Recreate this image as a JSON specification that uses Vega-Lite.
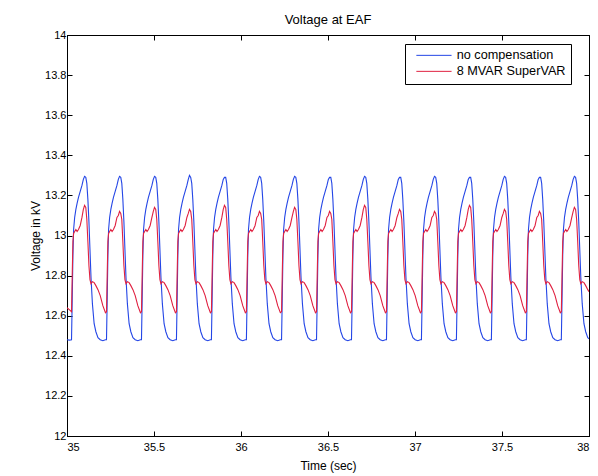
{
"$schema":"https://vega.github.io/schema/vega-lite/v6.json",
"width":522,"height":401,
"autosize":{"type":"none"},
"padding":{"left":67,"top":35,"right":9,"bottom":40},
"title":{"text":"Voltage at EAF","fontSize":13,"fontWeight":"normal","font":"Liberation Sans","color":"black","offset":2},
"data":{"values":[
{"t":35.0,"a":12.48,"b":12.64},{"t":35.013,"a":12.478,"b":12.63},
{"t":35.026,"a":12.48,"b":12.62},{"t":35.030,"a":12.68,"b":12.8},{"t":35.034,"a":12.9,"b":12.97},{"t":35.038,"a":13.03,"b":13.01},{"t":35.044,"a":13.09,"b":13.02},{"t":35.051,"a":13.13,"b":13.03},{"t":35.058,"a":13.16,"b":13.02},{"t":35.066,"a":13.19,"b":13.03},{"t":35.076,"a":13.22,"b":13.05},{"t":35.086,"a":13.25,"b":13.09},{"t":35.094,"a":13.28,"b":13.13},{"t":35.101,"a":13.295,"b":13.15},{"t":35.108,"a":13.29,"b":13.14},{"t":35.114,"a":13.26,"b":13.08},{"t":35.120,"a":13.18,"b":12.97},{"t":35.126,"a":13.07,"b":12.85},{"t":35.132,"a":12.93,"b":12.78},{"t":35.138,"a":12.79,"b":12.76},{"t":35.146,"a":12.66,"b":12.77},{"t":35.156,"a":12.56,"b":12.765},{"t":35.166,"a":12.52,"b":12.75},{"t":35.178,"a":12.49,"b":12.73},{"t":35.191,"a":12.48,"b":12.7},{"t":35.206,"a":12.475,"b":12.65},{"t":35.221,"a":12.48,"b":12.615},
{"t":35.227,"a":12.48,"b":12.62},{"t":35.231,"a":12.68,"b":12.8},{"t":35.235,"a":12.9,"b":12.97},{"t":35.239,"a":13.03,"b":13.01},{"t":35.245,"a":13.09,"b":13.02},{"t":35.252,"a":13.13,"b":13.03},{"t":35.259,"a":13.16,"b":13.02},{"t":35.267,"a":13.19,"b":13.03},{"t":35.277,"a":13.22,"b":13.05},{"t":35.287,"a":13.25,"b":13.09},{"t":35.295,"a":13.28,"b":13.1},{"t":35.302,"a":13.295,"b":13.12},{"t":35.309,"a":13.29,"b":13.11},{"t":35.315,"a":13.26,"b":13.08},{"t":35.321,"a":13.18,"b":12.97},{"t":35.327,"a":13.07,"b":12.85},{"t":35.333,"a":12.93,"b":12.78},{"t":35.339,"a":12.79,"b":12.76},{"t":35.347,"a":12.66,"b":12.77},{"t":35.357,"a":12.56,"b":12.765},{"t":35.367,"a":12.52,"b":12.75},{"t":35.379,"a":12.49,"b":12.73},{"t":35.392,"a":12.48,"b":12.7},{"t":35.407,"a":12.475,"b":12.65},{"t":35.422,"a":12.48,"b":12.615},
{"t":35.428,"a":12.48,"b":12.62},{"t":35.432,"a":12.68,"b":12.8},{"t":35.436,"a":12.9,"b":12.97},{"t":35.440,"a":13.03,"b":13.01},{"t":35.446,"a":13.09,"b":13.02},{"t":35.453,"a":13.13,"b":13.03},{"t":35.460,"a":13.16,"b":13.02},{"t":35.468,"a":13.19,"b":13.03},{"t":35.478,"a":13.22,"b":13.05},{"t":35.488,"a":13.25,"b":13.09},{"t":35.496,"a":13.28,"b":13.12},{"t":35.503,"a":13.295,"b":13.14},{"t":35.510,"a":13.29,"b":13.13},{"t":35.516,"a":13.26,"b":13.08},{"t":35.522,"a":13.18,"b":12.97},{"t":35.528,"a":13.07,"b":12.85},{"t":35.534,"a":12.93,"b":12.78},{"t":35.540,"a":12.79,"b":12.76},{"t":35.548,"a":12.66,"b":12.77},{"t":35.558,"a":12.56,"b":12.765},{"t":35.568,"a":12.52,"b":12.75},{"t":35.580,"a":12.49,"b":12.73},{"t":35.593,"a":12.48,"b":12.7},{"t":35.608,"a":12.475,"b":12.65},{"t":35.623,"a":12.48,"b":12.615},
{"t":35.629,"a":12.48,"b":12.62},{"t":35.633,"a":12.68,"b":12.8},{"t":35.637,"a":12.9,"b":12.97},{"t":35.641,"a":13.03,"b":13.01},{"t":35.647,"a":13.09,"b":13.02},{"t":35.654,"a":13.13,"b":13.03},{"t":35.661,"a":13.16,"b":13.02},{"t":35.669,"a":13.19,"b":13.03},{"t":35.679,"a":13.22,"b":13.05},{"t":35.689,"a":13.25,"b":13.09},{"t":35.697,"a":13.28,"b":13.11},{"t":35.704,"a":13.3,"b":13.13},{"t":35.711,"a":13.29,"b":13.12},{"t":35.717,"a":13.26,"b":13.08},{"t":35.723,"a":13.18,"b":12.97},{"t":35.729,"a":13.07,"b":12.85},{"t":35.735,"a":12.93,"b":12.78},{"t":35.741,"a":12.79,"b":12.76},{"t":35.749,"a":12.66,"b":12.77},{"t":35.759,"a":12.56,"b":12.765},{"t":35.769,"a":12.52,"b":12.75},{"t":35.781,"a":12.49,"b":12.73},{"t":35.794,"a":12.48,"b":12.7},{"t":35.809,"a":12.475,"b":12.65},{"t":35.824,"a":12.48,"b":12.615},
{"t":35.830,"a":12.48,"b":12.62},{"t":35.834,"a":12.68,"b":12.8},{"t":35.838,"a":12.9,"b":12.97},{"t":35.842,"a":13.03,"b":13.01},{"t":35.848,"a":13.09,"b":13.02},{"t":35.855,"a":13.13,"b":13.03},{"t":35.862,"a":13.16,"b":13.02},{"t":35.870,"a":13.19,"b":13.03},{"t":35.880,"a":13.22,"b":13.05},{"t":35.890,"a":13.25,"b":13.09},{"t":35.898,"a":13.28,"b":13.13},{"t":35.905,"a":13.29,"b":13.15},{"t":35.912,"a":13.29,"b":13.14},{"t":35.918,"a":13.26,"b":13.08},{"t":35.924,"a":13.18,"b":12.97},{"t":35.930,"a":13.07,"b":12.85},{"t":35.936,"a":12.93,"b":12.78},{"t":35.942,"a":12.79,"b":12.76},{"t":35.950,"a":12.66,"b":12.77},{"t":35.960,"a":12.56,"b":12.765},{"t":35.970,"a":12.52,"b":12.75},{"t":35.982,"a":12.49,"b":12.73},{"t":35.995,"a":12.48,"b":12.7},{"t":36.010,"a":12.475,"b":12.65},{"t":36.025,"a":12.48,"b":12.615},
{"t":36.031,"a":12.48,"b":12.62},{"t":36.035,"a":12.68,"b":12.8},{"t":36.039,"a":12.9,"b":12.97},{"t":36.043,"a":13.03,"b":13.01},{"t":36.049,"a":13.09,"b":13.02},{"t":36.056,"a":13.13,"b":13.03},{"t":36.063,"a":13.16,"b":13.02},{"t":36.071,"a":13.19,"b":13.03},{"t":36.081,"a":13.22,"b":13.05},{"t":36.091,"a":13.25,"b":13.09},{"t":36.099,"a":13.28,"b":13.1},{"t":36.106,"a":13.295,"b":13.12},{"t":36.113,"a":13.29,"b":13.11},{"t":36.119,"a":13.26,"b":13.08},{"t":36.125,"a":13.18,"b":12.97},{"t":36.131,"a":13.07,"b":12.85},{"t":36.137,"a":12.93,"b":12.78},{"t":36.143,"a":12.79,"b":12.76},{"t":36.151,"a":12.66,"b":12.77},{"t":36.161,"a":12.56,"b":12.765},{"t":36.171,"a":12.52,"b":12.75},{"t":36.183,"a":12.49,"b":12.73},{"t":36.196,"a":12.48,"b":12.7},{"t":36.211,"a":12.475,"b":12.65},{"t":36.226,"a":12.48,"b":12.615},
{"t":36.233,"a":12.48,"b":12.62},{"t":36.237,"a":12.68,"b":12.8},{"t":36.241,"a":12.9,"b":12.97},{"t":36.245,"a":13.03,"b":13.01},{"t":36.251,"a":13.09,"b":13.02},{"t":36.258,"a":13.13,"b":13.03},{"t":36.265,"a":13.16,"b":13.02},{"t":36.273,"a":13.19,"b":13.03},{"t":36.283,"a":13.22,"b":13.05},{"t":36.293,"a":13.25,"b":13.09},{"t":36.301,"a":13.28,"b":13.12},{"t":36.308,"a":13.295,"b":13.14},{"t":36.315,"a":13.29,"b":13.13},{"t":36.321,"a":13.26,"b":13.08},{"t":36.327,"a":13.18,"b":12.97},{"t":36.333,"a":13.07,"b":12.85},{"t":36.339,"a":12.93,"b":12.78},{"t":36.345,"a":12.79,"b":12.76},{"t":36.353,"a":12.66,"b":12.77},{"t":36.363,"a":12.56,"b":12.765},{"t":36.373,"a":12.52,"b":12.75},{"t":36.385,"a":12.49,"b":12.73},{"t":36.398,"a":12.48,"b":12.7},{"t":36.413,"a":12.475,"b":12.65},{"t":36.428,"a":12.48,"b":12.615},
{"t":36.434,"a":12.48,"b":12.62},{"t":36.438,"a":12.68,"b":12.8},{"t":36.442,"a":12.9,"b":12.97},{"t":36.446,"a":13.03,"b":13.01},{"t":36.452,"a":13.09,"b":13.02},{"t":36.459,"a":13.13,"b":13.03},{"t":36.466,"a":13.16,"b":13.02},{"t":36.474,"a":13.19,"b":13.03},{"t":36.484,"a":13.22,"b":13.05},{"t":36.494,"a":13.25,"b":13.09},{"t":36.502,"a":13.28,"b":13.1},{"t":36.509,"a":13.29,"b":13.12},{"t":36.516,"a":13.29,"b":13.11},{"t":36.522,"a":13.26,"b":13.08},{"t":36.528,"a":13.18,"b":12.97},{"t":36.534,"a":13.07,"b":12.85},{"t":36.540,"a":12.93,"b":12.78},{"t":36.546,"a":12.79,"b":12.76},{"t":36.554,"a":12.66,"b":12.77},{"t":36.564,"a":12.56,"b":12.765},{"t":36.574,"a":12.52,"b":12.75},{"t":36.586,"a":12.49,"b":12.73},{"t":36.599,"a":12.48,"b":12.7},{"t":36.614,"a":12.475,"b":12.65},{"t":36.629,"a":12.48,"b":12.615},
{"t":36.635,"a":12.48,"b":12.62},{"t":36.639,"a":12.68,"b":12.8},{"t":36.643,"a":12.9,"b":12.97},{"t":36.647,"a":13.03,"b":13.01},{"t":36.653,"a":13.09,"b":13.02},{"t":36.660,"a":13.13,"b":13.03},{"t":36.667,"a":13.16,"b":13.02},{"t":36.675,"a":13.19,"b":13.03},{"t":36.685,"a":13.22,"b":13.05},{"t":36.695,"a":13.25,"b":13.09},{"t":36.703,"a":13.28,"b":13.13},{"t":36.710,"a":13.295,"b":13.15},{"t":36.717,"a":13.29,"b":13.14},{"t":36.723,"a":13.26,"b":13.08},{"t":36.729,"a":13.18,"b":12.97},{"t":36.735,"a":13.07,"b":12.85},{"t":36.741,"a":12.93,"b":12.78},{"t":36.747,"a":12.79,"b":12.76},{"t":36.755,"a":12.66,"b":12.77},{"t":36.765,"a":12.56,"b":12.765},{"t":36.775,"a":12.52,"b":12.75},{"t":36.787,"a":12.49,"b":12.73},{"t":36.800,"a":12.48,"b":12.7},{"t":36.815,"a":12.475,"b":12.65},{"t":36.830,"a":12.48,"b":12.615},
{"t":36.836,"a":12.48,"b":12.62},{"t":36.840,"a":12.68,"b":12.8},{"t":36.844,"a":12.9,"b":12.97},{"t":36.848,"a":13.03,"b":13.01},{"t":36.854,"a":13.09,"b":13.02},{"t":36.861,"a":13.13,"b":13.03},{"t":36.868,"a":13.16,"b":13.02},{"t":36.876,"a":13.19,"b":13.03},{"t":36.886,"a":13.22,"b":13.05},{"t":36.896,"a":13.25,"b":13.09},{"t":36.904,"a":13.28,"b":13.11},{"t":36.911,"a":13.29,"b":13.13},{"t":36.918,"a":13.29,"b":13.12},{"t":36.924,"a":13.26,"b":13.08},{"t":36.930,"a":13.18,"b":12.97},{"t":36.936,"a":13.07,"b":12.85},{"t":36.942,"a":12.93,"b":12.78},{"t":36.948,"a":12.79,"b":12.76},{"t":36.956,"a":12.66,"b":12.77},{"t":36.966,"a":12.56,"b":12.765},{"t":36.976,"a":12.52,"b":12.75},{"t":36.988,"a":12.49,"b":12.73},{"t":37.001,"a":12.48,"b":12.7},{"t":37.016,"a":12.475,"b":12.65},{"t":37.031,"a":12.48,"b":12.615},
{"t":37.037,"a":12.48,"b":12.62},{"t":37.041,"a":12.68,"b":12.8},{"t":37.045,"a":12.9,"b":12.97},{"t":37.049,"a":13.03,"b":13.01},{"t":37.055,"a":13.09,"b":13.02},{"t":37.062,"a":13.13,"b":13.03},{"t":37.069,"a":13.16,"b":13.02},{"t":37.077,"a":13.19,"b":13.03},{"t":37.087,"a":13.22,"b":13.05},{"t":37.097,"a":13.25,"b":13.09},{"t":37.105,"a":13.28,"b":13.1},{"t":37.112,"a":13.295,"b":13.12},{"t":37.119,"a":13.29,"b":13.11},{"t":37.125,"a":13.26,"b":13.08},{"t":37.131,"a":13.18,"b":12.97},{"t":37.137,"a":13.07,"b":12.85},{"t":37.143,"a":12.93,"b":12.78},{"t":37.149,"a":12.79,"b":12.76},{"t":37.157,"a":12.66,"b":12.77},{"t":37.167,"a":12.56,"b":12.765},{"t":37.177,"a":12.52,"b":12.75},{"t":37.189,"a":12.49,"b":12.73},{"t":37.202,"a":12.48,"b":12.7},{"t":37.217,"a":12.475,"b":12.65},{"t":37.232,"a":12.48,"b":12.615},
{"t":37.238,"a":12.48,"b":12.62},{"t":37.242,"a":12.68,"b":12.8},{"t":37.246,"a":12.9,"b":12.97},{"t":37.250,"a":13.03,"b":13.01},{"t":37.256,"a":13.09,"b":13.02},{"t":37.263,"a":13.13,"b":13.03},{"t":37.270,"a":13.16,"b":13.02},{"t":37.278,"a":13.19,"b":13.03},{"t":37.288,"a":13.22,"b":13.05},{"t":37.298,"a":13.25,"b":13.09},{"t":37.306,"a":13.28,"b":13.13},{"t":37.313,"a":13.29,"b":13.15},{"t":37.320,"a":13.29,"b":13.14},{"t":37.326,"a":13.26,"b":13.08},{"t":37.332,"a":13.18,"b":12.97},{"t":37.338,"a":13.07,"b":12.85},{"t":37.344,"a":12.93,"b":12.78},{"t":37.350,"a":12.79,"b":12.76},{"t":37.358,"a":12.66,"b":12.77},{"t":37.368,"a":12.56,"b":12.765},{"t":37.378,"a":12.52,"b":12.75},{"t":37.390,"a":12.49,"b":12.73},{"t":37.403,"a":12.48,"b":12.7},{"t":37.418,"a":12.475,"b":12.65},{"t":37.433,"a":12.48,"b":12.615},
{"t":37.439,"a":12.48,"b":12.62},{"t":37.443,"a":12.68,"b":12.8},{"t":37.447,"a":12.9,"b":12.97},{"t":37.451,"a":13.03,"b":13.01},{"t":37.457,"a":13.09,"b":13.02},{"t":37.464,"a":13.13,"b":13.03},{"t":37.471,"a":13.16,"b":13.02},{"t":37.479,"a":13.19,"b":13.03},{"t":37.489,"a":13.22,"b":13.05},{"t":37.499,"a":13.25,"b":13.09},{"t":37.507,"a":13.28,"b":13.11},{"t":37.514,"a":13.295,"b":13.13},{"t":37.521,"a":13.29,"b":13.12},{"t":37.527,"a":13.26,"b":13.08},{"t":37.533,"a":13.18,"b":12.97},{"t":37.539,"a":13.07,"b":12.85},{"t":37.545,"a":12.93,"b":12.78},{"t":37.551,"a":12.79,"b":12.76},{"t":37.559,"a":12.66,"b":12.77},{"t":37.569,"a":12.56,"b":12.765},{"t":37.579,"a":12.52,"b":12.75},{"t":37.591,"a":12.49,"b":12.73},{"t":37.604,"a":12.48,"b":12.7},{"t":37.619,"a":12.475,"b":12.65},{"t":37.634,"a":12.48,"b":12.615},
{"t":37.640,"a":12.48,"b":12.62},{"t":37.644,"a":12.68,"b":12.8},{"t":37.648,"a":12.9,"b":12.97},{"t":37.652,"a":13.03,"b":13.01},{"t":37.658,"a":13.09,"b":13.02},{"t":37.665,"a":13.13,"b":13.03},{"t":37.672,"a":13.16,"b":13.02},{"t":37.680,"a":13.19,"b":13.03},{"t":37.690,"a":13.22,"b":13.05},{"t":37.700,"a":13.25,"b":13.09},{"t":37.708,"a":13.28,"b":13.1},{"t":37.715,"a":13.29,"b":13.12},{"t":37.722,"a":13.29,"b":13.11},{"t":37.728,"a":13.26,"b":13.08},{"t":37.734,"a":13.18,"b":12.97},{"t":37.740,"a":13.07,"b":12.85},{"t":37.746,"a":12.93,"b":12.78},{"t":37.752,"a":12.79,"b":12.76},{"t":37.760,"a":12.66,"b":12.77},{"t":37.770,"a":12.56,"b":12.765},{"t":37.780,"a":12.52,"b":12.75},{"t":37.792,"a":12.49,"b":12.73},{"t":37.805,"a":12.48,"b":12.7},{"t":37.820,"a":12.475,"b":12.65},{"t":37.835,"a":12.48,"b":12.615},
{"t":37.841,"a":12.48,"b":12.62},{"t":37.845,"a":12.68,"b":12.8},{"t":37.849,"a":12.9,"b":12.97},{"t":37.853,"a":13.03,"b":13.01},{"t":37.859,"a":13.09,"b":13.02},{"t":37.866,"a":13.13,"b":13.03},{"t":37.873,"a":13.16,"b":13.02},{"t":37.881,"a":13.19,"b":13.03},{"t":37.891,"a":13.22,"b":13.05},{"t":37.901,"a":13.25,"b":13.09},{"t":37.909,"a":13.28,"b":13.12},{"t":37.916,"a":13.295,"b":13.14},{"t":37.923,"a":13.29,"b":13.13},{"t":37.929,"a":13.26,"b":13.08},{"t":37.935,"a":13.18,"b":12.97},{"t":37.941,"a":13.07,"b":12.85},{"t":37.947,"a":12.93,"b":12.78},{"t":37.953,"a":12.79,"b":12.76},{"t":37.961,"a":12.66,"b":12.77},{"t":37.971,"a":12.56,"b":12.765},{"t":37.981,"a":12.52,"b":12.75},{"t":37.993,"a":12.49,"b":12.73},{"t":38.0,"a":12.485,"b":12.72}
]},
"transform":[{"fold":["a","b"],"as":["s","v"]}],
"layer":[
{"mark":{"type":"line","strokeWidth":1.1,"clip":true},
 "encoding":{
  "x":{"field":"t","type":"quantitative","scale":{"domain":[35,38],"nice":false,"zero":false},
       "axis":{"orient":"bottom","values":[35,35.5,36,36.5,37,37.5,38],"format":"~g","title":"Time (sec)","labelPadding":10,"titlePadding":8}},
  "y":{"field":"v","type":"quantitative","scale":{"domain":[12,14],"nice":false,"zero":false},
       "axis":{"orient":"left","values":[12,12.2,12.4,12.6,12.8,13,13.2,13.4,13.6,13.8,14],"format":"~g","title":"Voltage in kV","labelPadding":6,"titlePadding":2}},
  "color":{"field":"s","type":"nominal","scale":{"domain":["a","b"],"range":["#2446e6","#e02040"]},
       "legend":{"orient":"none","legendX":338,"legendY":9,"title":null,"strokeColor":"black","fillColor":"white","padding":5,"symbolType":"M0,0H8.8","symbolSize":64,"symbolStrokeWidth":1,"labelFontSize":12.7,"labelFont":"Liberation Sans","labelColor":"black","labelOffset":34,"rowPadding":2,"cornerRadius":0,"labelExpr":"datum.label == 'a' ? 'no compensation' : '8 MVAR SuperVAR'"}}
 }},
{"mark":{"type":"line","strokeOpacity":0},
 "encoding":{
  "x":{"field":"t","type":"quantitative","axis":{"orient":"top","values":[35,35.5,36,36.5,37,37.5,38],"labels":false,"title":null}},
  "y":{"field":"v","type":"quantitative","axis":{"orient":"right","values":[12,12.2,12.4,12.6,12.8,13,13.2,13.4,13.6,13.8,14],"labels":false,"title":null}}
 }}
],
"resolve":{"axis":{"x":"independent","y":"independent"}},
"config":{
 "font":"Liberation Sans",
 "view":{"stroke":"black","strokeWidth":1},
 "axis":{"grid":false,"domainColor":"black","tickColor":"black","labelColor":"black","titleColor":"black","tickSize":-5,"labelFontSize":11,"titleFontSize":12,"titleFontWeight":"normal","labelFont":"Liberation Sans","titleFont":"Liberation Sans"}
}
}
